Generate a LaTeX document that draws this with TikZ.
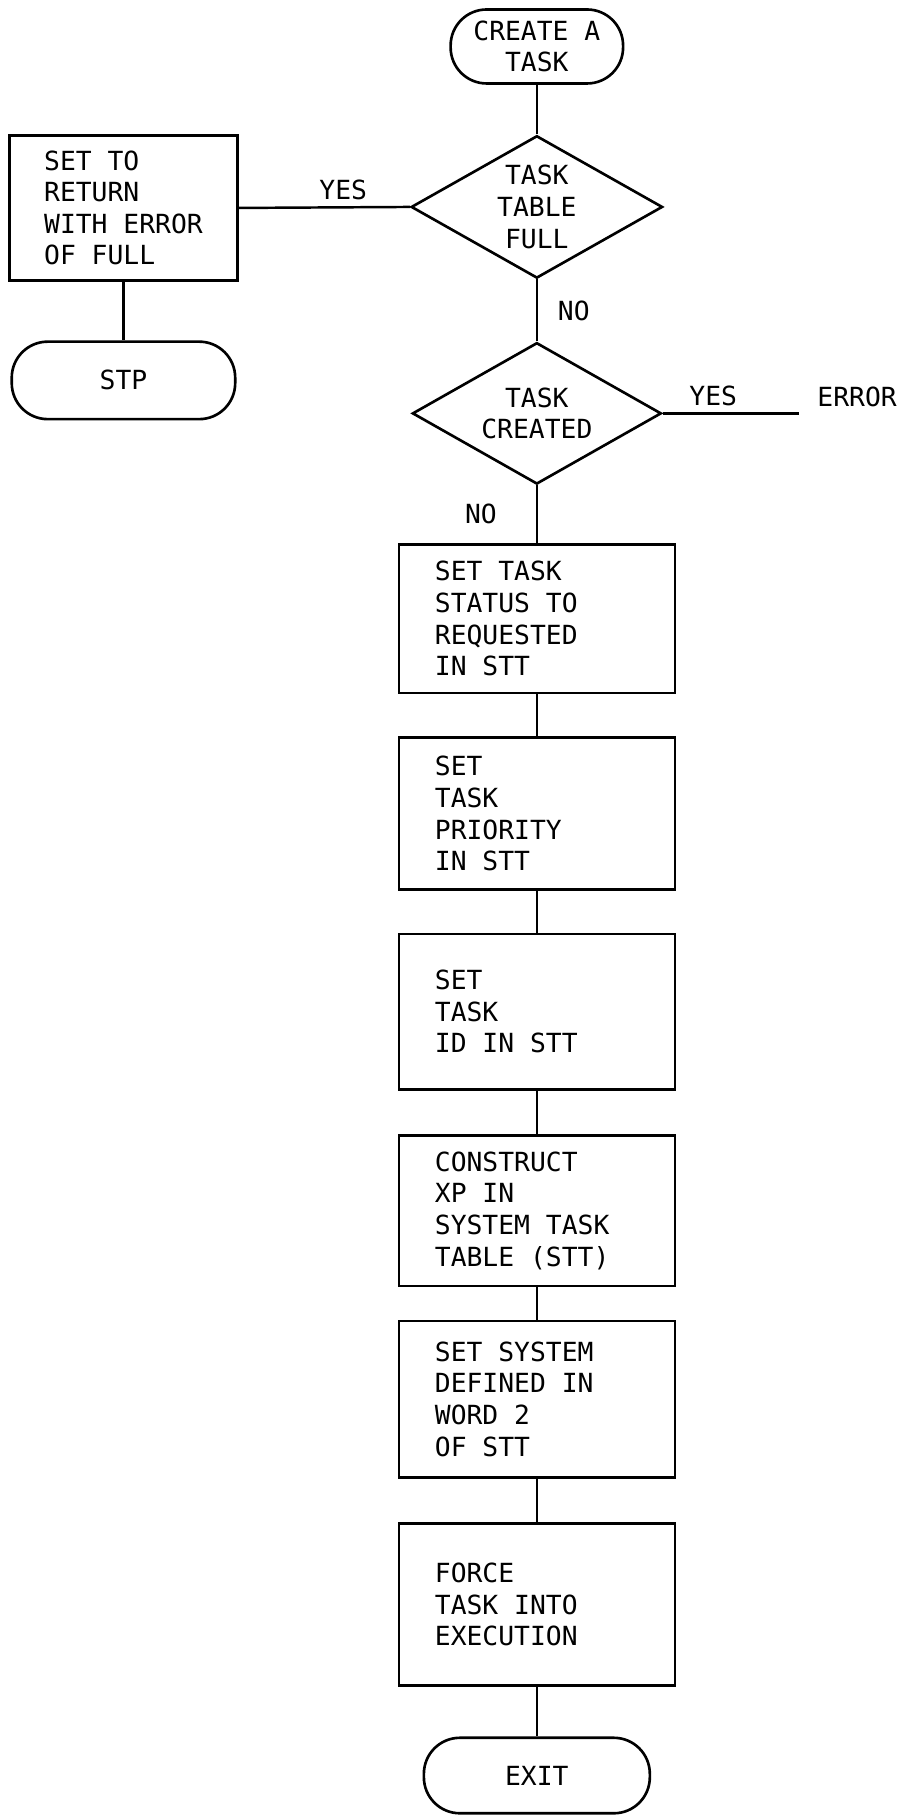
\documentclass[tikz,border=0pt]{standalone}
\usepackage{fontspec}
\setmonofont{DejaVu Sans Mono}
\usetikzlibrary{shapes.geometric}

\begin{document}
\begin{tikzpicture}[
  font=\ttfamily\fontsize{15}{18}\selectfont,
  term/.style={rectangle, rounded corners=0.72cm, draw=black, line width=1.5pt, align=center, inner sep=0pt},
  dec/.style={diamond, draw=black, line width=1.5pt, inner sep=0pt},
  proc/.style={rectangle, draw=black, line width=1.5pt, minimum width=5.52cm, text width=4.08cm, inner xsep=0.72cm, align=flush left},
  edge/.style={line width=1.4pt, draw=black},
  clabel/.style={inner sep=2pt}
]
  % marco igual al de la figura original
  \useasboundingbox (0,0) rectangle (17.94,-36.35);

  % --- INICIO Y PRIMERA DECISION ---
  \node[term, minimum width=3.45cm, minimum height=1.48cm] (t0) at (10.74,-0.93) {CREATE A\\TASK};
  \node[dec, minimum width=5.03cm, minimum height=2.85cm,
        label={[align=center]center:TASK\\TABLE\\FULL}] (d1) at (10.74,-4.14) {};

  % --- RAMA IZQUIERDA ---
  \node[rectangle, draw=black, line width=1.5pt, minimum width=4.57cm, minimum height=2.9cm, align=left] (e1) at (2.47,-4.16) {SET TO\\RETURN\\WITH ERROR\\OF FULL};
  \node[term, minimum width=4.47cm, minimum height=1.55cm] (stp) at (2.47,-7.61) {STP};

  % --- SEGUNDA DECISION ---
  \node[dec, minimum width=4.98cm, minimum height=2.83cm,
        label={[align=center]center:TASK\\CREATED}] (d2) at (10.74,-8.27) {};
  \coordinate (errend) at (15.99,-8.27);
  \node[anchor=south west, xshift=0.24cm] (err) at (errend) {ERROR};

  % --- PASOS ---
  \node[proc, minimum height=2.97cm] (b1) at (10.74,-12.38) {SET TASK\\STATUS TO\\REQUESTED\\IN STT};
  \node[proc, minimum height=3.04cm] (b2) at (10.74,-16.28) {SET\\TASK\\PRIORITY\\IN STT};
  \node[proc, minimum height=3.11cm] (b3) at (10.74,-20.24) {SET\\TASK\\ID IN STT};
  \node[proc, minimum height=3.01cm] (b4) at (10.74,-24.22) {CONSTRUCT\\XP IN\\SYSTEM TASK\\TABLE (STT)};
  \node[proc, minimum height=3.13cm] (b5) at (10.74,-27.99) {SET SYSTEM\\DEFINED IN\\WORD 2\\OF STT};
  \node[proc, minimum height=3.25cm] (b6) at (10.74,-32.10) {FORCE\\TASK INTO\\EXECUTION};
  \node[term, minimum width=4.52cm, minimum height=1.51cm] (exit) at (10.74,-35.52) {EXIT};

  \draw[edge] (t0) -- (d1);
  \draw[edge] (d1.west) -- node[above, pos=0.39] (yes1) {YES} (e1.east);
  \draw[edge] (e1) -- (stp);
  \draw[edge] (d1) -- node[right, xshift=0.28cm] (no1) {NO} (d2);
  \draw[edge] (d2.east) -- node[above, pos=0.37] (yes2) {YES} (errend);
  \draw[edge] (d2) -- node[left, xshift=-0.66cm] (no2) {NO} (b1);
  \draw[edge] (b1) -- (b2);
  \draw[edge] (b2) -- (b3);
  \draw[edge] (b3) -- (b4);
  \draw[edge] (b4) -- (b5);
  \draw[edge] (b5) -- (b6);
  \draw[edge] (b6) -- (exit);
\end{tikzpicture}
\end{document}
